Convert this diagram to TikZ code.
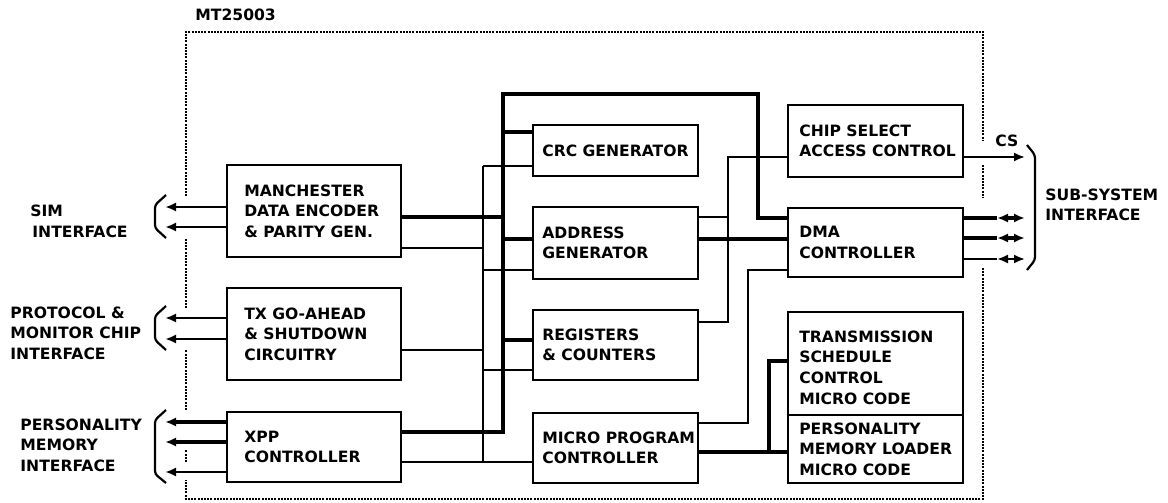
\documentclass[tikz,border=0pt]{standalone}
\usepackage{fontspec}
\setmainfont{DejaVu Sans}
\usetikzlibrary{arrows.meta, calc}
\newcommand{\plotfont}{\fontsize{7.8}{10.3}\selectfont\bfseries}
\tikzset{
    boxnode/.style={rectangle, draw=black, line width=1.1pt, inner sep=0pt},
    leftbox/.style={boxnode, minimum width=87pt},
    midbox/.style={boxnode, minimum width=82.5pt},
    rightbox/.style={boxnode, minimum width=87.5pt},
    boxtext/.style={anchor=west, align=left, inner sep=0pt, font=\plotfont},
    lbl/.style={anchor=west, align=left, inner sep=0pt, font=\plotfont},
    thinwire/.style={line width=1pt},
    buswire/.style={line width=2pt},
    sigwire/.style={line width=1.4pt, ->},
    heavysig/.style={line width=1.8pt, ->},
    bracket/.style={line width=1.1pt, rounded corners=1.5pt},
    chipedge/.style={dash pattern=on 1pt off 0.6pt, line width=0.6pt},
}
\begin{document}
\begin{tikzpicture}[x=0.5pt, y=-0.5pt, >={Latex[length=5.5pt, width=4.5pt]}]
    \useasboundingbox (0,0) rectangle (1168,503);

    % Chip outline
    \node[lbl] (chip) at (195,15) {MT25003};
    \draw[chipedge] (186,196) -- (186,32) -- (983,32) -- (983,140);
    \draw[chipedge] (983,165) -- (983,198);
    \draw[chipedge] (983,268) -- (983,499) -- (186,499) -- (186,480);
    \draw[chipedge] (186,462) -- (186,450);
    \draw[chipedge] (186,410) -- (186,350);
    \draw[chipedge] (186,308) -- (186,238);

    % Blocks, left column
    \node[leftbox, minimum height=46pt] (man) at (314,211) {};
    \node[boxtext] (man-t) at ([xshift=9pt]man.west) {MANCHESTER\\DATA ENCODER\\\& PARITY GEN.};
    \node[leftbox, minimum height=46pt] (tx) at (314,334) {};
    \node[boxtext] (tx-t) at ([xshift=9pt]tx.west) {TX GO-AHEAD\\\& SHUTDOWN\\CIRCUITRY};
    \node[leftbox, minimum height=35pt] (xpp) at (314,447) {};
    \node[boxtext] (xpp-t) at ([xshift=9pt]xpp.west) {XPP\\CONTROLLER};

    % Blocks, middle column
    \node[midbox, minimum height=25.5pt] (crc) at (615.5,150.5) {};
    \node[boxtext] (crc-t) at ([xshift=5pt]crc.west) {CRC GENERATOR};
    \node[midbox, minimum height=36pt] (addr) at (615.5,243) {};
    \node[boxtext] (addr-t) at ([xshift=5pt]addr.west) {ADDRESS\\GENERATOR};
    \node[midbox, minimum height=35pt] (reg) at (615.5,345) {};
    \node[boxtext] (reg-t) at ([xshift=5pt]reg.west) {REGISTERS\\\& COUNTERS};
    \node[midbox, minimum height=35pt] (mpc) at (615.5,448) {};
    \node[boxtext] (mpc-t) at ([xshift=5pt]mpc.west) {MICRO PROGRAM\\CONTROLLER};

    % Blocks, right column
    \node[rightbox, minimum height=36pt] (cs) at (875.5,141) {};
    \node[boxtext] (cs-t) at ([xshift=6pt]cs.west) {CHIP SELECT\\ACCESS CONTROL};
    \node[rightbox, minimum height=34.5pt] (dma) at (875.5,242.5) {};
    \node[boxtext] (dma-t) at ([xshift=6pt]dma.west) {DMA\\CONTROLLER};
    \node[rightbox, minimum height=51.5pt] (tsc) at (875.5,363.5) {};
    \node[boxtext] (tsc-t) at ([xshift=6pt, yshift=-2pt]tsc.west) {TRANSMISSION\\SCHEDULE\\CONTROL\\MICRO CODE};
    \node[rightbox, minimum height=34pt] (pml) at (875.5,449) {};
    \node[boxtext] (pml-t) at ([xshift=6pt]pml.west) {PERSONALITY\\MEMORY LOADER\\MICRO CODE};

    % Bus columns
    \coordinate (bus) at (503,0);
    \coordinate (tap) at (483,0);
    \coordinate (sel) at (728,0);
    \coordinate (dmal) at (748,0);
    \coordinate (tsx) at (769,0);
    \coordinate (busTop) at (503,94);
    \coordinate (busTurn) at (758,218);

    % Main bus
    \draw[buswire] (xpp.east |- 0,432) -| (busTop) -| (busTurn) -- (dma.west |- busTurn);
    \draw[buswire] (man.east |- 0,217) -- (bus |- 0,217);
    \foreach \y/\b in {132/crc, 239/addr, 340/reg}
        \draw[buswire] (bus |- 0,\y) -- (\b.west |- 0,\y);

    % Thin control lines
    \draw[thinwire] (tap |- 0,166) -- (tap |- 0,462);
    \foreach \y/\b in {166/crc, 270/addr, 370/reg, 462/mpc}
        \draw[thinwire] (tap |- 0,\y) -- (\b.west |- 0,\y);
    \foreach \y/\a in {248/man, 350/tx, 462/xpp}
        \draw[thinwire] (\a.east |- 0,\y) -- (tap |- 0,\y);

    \draw[thinwire] (addr.east |- 0,217) -- (sel |- 0,217);
    \draw[thinwire] (reg.east |- 0,322) -| (sel |- 0,157) -- (cs.west |- 0,157);
    \draw[buswire] (addr.east |- 0,239) -- (dma.west |- 0,239);
    \draw[thinwire] (mpc.east |- 0,423) -| (dmal |- 0,270) -- (dma.west |- 0,270);
    \draw[buswire] (mpc.east |- 0,452) -- (pml.west |- 0,452);
    \draw[buswire] (tsx |- 0,452) |- (tsc.west |- 0,361);

    % Left interfaces
    \coordinate (sim1) at (165,207);
    \coordinate (sim2) at (165,227);
    \coordinate (pm1) at (165,318);
    \coordinate (pm2) at (165,339);
    \coordinate (pi1) at (165,422);
    \coordinate (pi2) at (165,442);
    \coordinate (pi3) at (165,472);
    \draw[sigwire] (man.west |- sim1) -- (sim1);
    \draw[sigwire] (man.west |- sim2) -- (sim2);
    \draw[sigwire] (tx.west |- pm1) -- (pm1);
    \draw[sigwire] (tx.west |- pm2) -- (pm2);
    \draw[heavysig] (xpp.west |- pi1) -- (pi1);
    \draw[heavysig] (xpp.west |- pi2) -- (pi2);
    \draw[sigwire] (xpp.west |- pi3) -- (pi3);
    \draw[bracket] (166,195) -- (155,205) -- (155,228) -- (166,238);
    \draw[bracket] (166,306) -- (155,316) -- (155,340) -- (166,350);
    \draw[bracket] (166,410) -- (155,420) -- (155,474) -- (166,483);

    \node[lbl] (simL) at (30,221.5) {SIM\\\hspace*{1pt}INTERFACE};
    \node[lbl] (pmL) at (10,333) {PROTOCOL \&\\MONITOR CHIP\\INTERFACE};
    \node[lbl] (piL) at (20,445) {PERSONALITY\\MEMORY\\INTERFACE};

    % Sub-system interface
    \coordinate (csR) at (1025,157);
    \draw[sigwire, line width=1pt] (cs.east |- csR) -- (csR);
    \node[lbl] (csL) at (995,141) {CS};
    \coordinate (ss1) at (1025,218);
    \coordinate (ss2) at (1025,238);
    \coordinate (ss3) at (1025,259);
    \coordinate (ss1m) at (997,218);
    \coordinate (ss2m) at (997,238);
    \coordinate (ss3m) at (997,259);
    \draw[buswire] (dma.east |- ss1) -- (ss1m);
    \draw[buswire, <->] (ss1m) -- (ss1);
    \draw[buswire] (dma.east |- ss2) -- (ss2m);
    \draw[buswire, <->] (ss2m) -- (ss2);
    \draw[thinwire] (dma.east |- ss3) -- (ss3m);
    \draw[thinwire, <->] (ss3m) -- (ss3);
    \draw[bracket] (1027,145) -- (1035,155) -- (1035,260) -- (1027,270);
    \node[lbl] (ssL) at (1045,205) {SUB-SYSTEM\\INTERFACE};
\end{tikzpicture}
\end{document}
